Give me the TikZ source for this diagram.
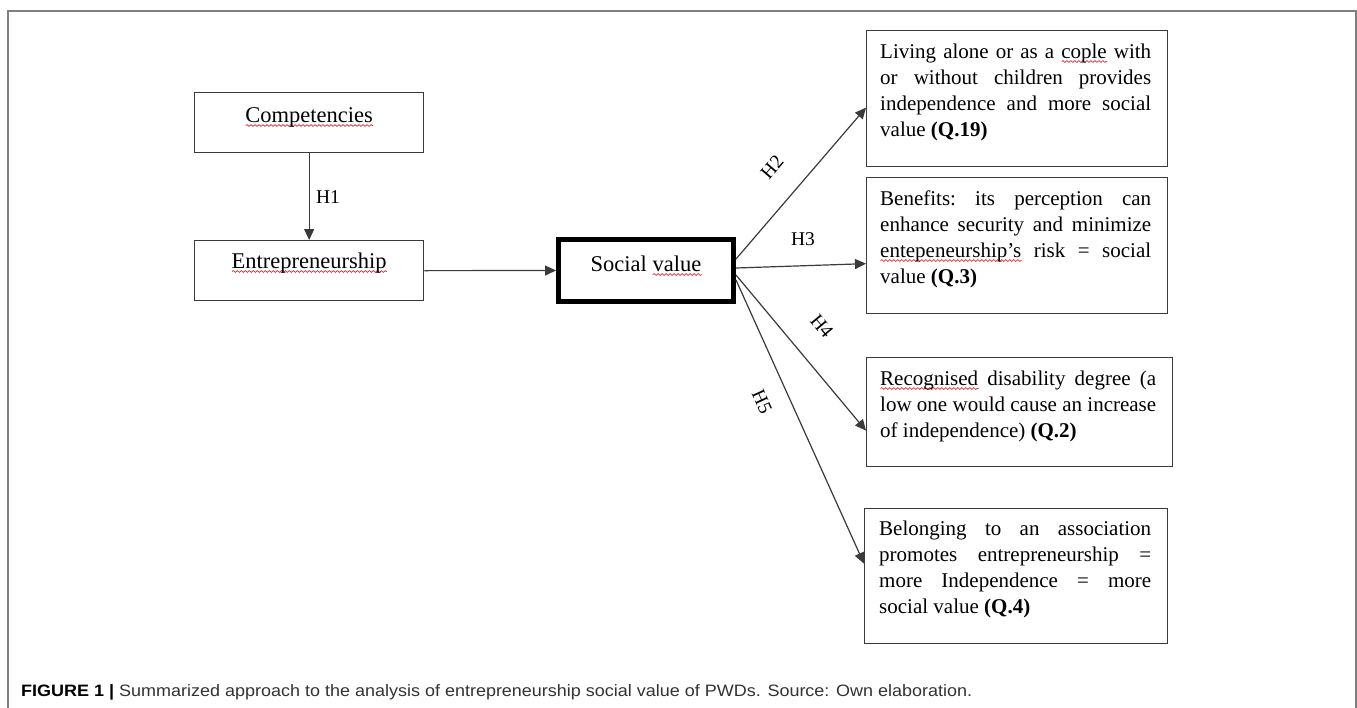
\documentclass[tikz,border=0pt]{standalone}
\usepackage{fontspec}
\setmainfont{Liberation Serif}
\newfontfamily\capfont{Liberation Sans}
\usetikzlibrary{arrows.meta,calc,decorations.pathmorphing}
\definecolor{linegray}{HTML}{3A3A3A}
\definecolor{framegray}{HTML}{808080}
\definecolor{squig}{HTML}{D03030}
\definecolor{captext}{HTML}{333333}
\newsavebox\sqbox
\newcommand\sq[1]{\sbox\sqbox{#1}\leavevmode\makebox[0pt][l]{\smash{\tikz[baseline=0pt]\draw[squig,line width=0.7pt,decorate,decoration={snake,amplitude=0.9pt,segment length=4pt}] (0pt,-3.5pt) -- (\wd\sqbox,-3.5pt);}}\usebox\sqbox}
\newcommand\nsk{\frenchspacing\spaceskip=0.25em plus 2em minus 0.06em\xspaceskip=0.25em plus 2em minus 0.06em\relax}
\newcommand\jl[2]{\makebox[#1][s]{\nsk #2}}
\tikzset{
  box/.style={draw=linegray, line width=1.3pt, inner sep=0pt, anchor=north west},
  boxtext/.style={anchor=base west, inner sep=0pt, text width=280pt, align=left, font=\fontsize{21}{26}\selectfont},
  onetext/.style={anchor=base, inner sep=0pt, font=\fontsize{22.5}{26}\selectfont},
  conn/.style={draw=linegray, line width=1.2pt, -{Triangle[length=11pt,width=10pt]}},
  hlabel/.style={inner sep=0pt, font=\fontsize{19.5}{22}\selectfont}
}
\begin{document}
\begin{tikzpicture}[x=1pt,y=-1pt]
\useasboundingbox (0,0) rectangle (1357,707);
% outer frame (bottom edge lies beyond the picture)
\draw[framegray, line width=1.5pt] (8,720) -- (8,11) -- (1356,11) -- (1356,720);

% left column
\node[box, minimum width=229pt, minimum height=60pt] (comp) at (194,92) {};
\node[onetext] (compt) at ($(comp.north)+(0,30)$) {\sq{Competencies}};
\node[box, minimum width=229pt, minimum height=60pt] (ent) at (194,240) {};
\node[onetext] (entt) at ($(ent.north)+(0,28)$) {\sq{Entrepreneurship}};

% social value
\node[draw=black, line width=5pt, inner sep=0pt, minimum width=175pt, minimum height=62pt] (sv) at (646,270.5) {};
\node[onetext] (svt) at (646,271) {Social \sq{value}};

% right column
\node[box, minimum width=301pt, minimum height=136pt] (b1) at (866,30) {};
\node[boxtext] (b1t) at ($(b1.north west)+(14,28)$) {\jl{271pt}{Living alone or as a \sq{cople} with}\\ \jl{271pt}{or without children provides}\\ \jl{271pt}{independence and more social}\\ \nsk value \textbf{(Q.19)}};
\node[box, minimum width=301pt, minimum height=136pt] (b2) at (866,177) {};
\node[boxtext] (b2t) at ($(b2.north west)+(14,28)$) {\jl{271pt}{Benefits: its perception can}\\ \jl{271pt}{enhance security and minimize}\\ \jl{271pt}{\sq{entepeneurship’s} risk = social}\\ \nsk value \textbf{(Q.3)}};
\node[box, minimum width=306pt, minimum height=109pt] (b3) at (866,357) {};
\node[boxtext] (b3t) at ($(b3.north west)+(14,28)$) {\jl{276pt}{\sq{Recognised} disability degree (a}\\ \jl{276pt}{low one would cause an increase}\\ \nsk of independence) \textbf{(Q.2)}};
\node[box, minimum width=303pt, minimum height=135pt] (b4) at (864,508) {};
\node[boxtext] (b4t) at ($(b4.north west)+(15,27)$) {\jl{272pt}{Belonging to an association}\\ \jl{272pt}{promotes entrepreneurship =}\\ \jl{272pt}{more Independence = more}\\ \nsk social value \textbf{(Q.4)}};

% connectors
\draw[conn] (comp.south) -- (ent.north);
\draw[conn] (ent.east) -- (sv.west);
\draw[conn] ($(sv.east)+(0,-11.5)$) -- ($(b1.west)+(0,9)$);
\draw[conn] ($(sv.east)+(0,-2.5)$) -- ($(b2.west)+(0,18)$);
\draw[conn] ($(sv.east)+(0,4.5)$) -- ($(b3.west)+(0,18.5)$);
\draw[conn] ($(sv.east)+(0,9.5)$) -- ($(b4.west)+(0,-12.5)$);

% labels
\node[hlabel] (h1) at (328,197.5) {H1};
\node[hlabel, rotate=49.5] (h2) at (772,167) {H2};
\node[hlabel] (h3) at (803,239) {H3};
\node[hlabel, rotate=-50] (h4) at (822,326) {H4};
\node[hlabel, rotate=-65.5] (h5) at (762,402) {H5};

% caption
\node[anchor=base west, inner sep=0pt, text=captext, font=\capfont\fontsize{16.5}{19}\selectfont] (cap) at (21,696.5) {\scalebox{1.09}[1]{{\color{black}\textbf{FIGURE 1 |}} Summarized approach to the analysis of entrepreneurship social value of PWDs. Source: Own elaboration.}};
\end{tikzpicture}
\end{document}
